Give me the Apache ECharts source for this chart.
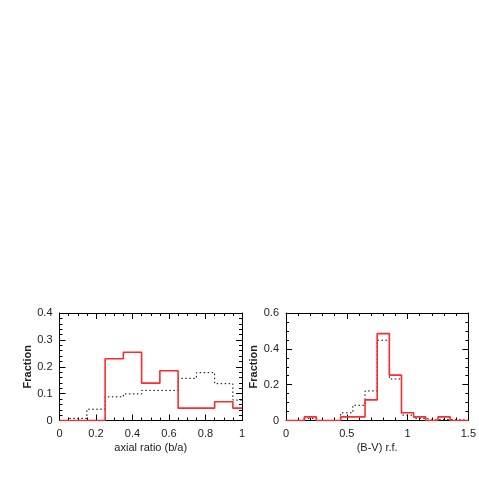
<!DOCTYPE html>
<html><head><meta charset="utf-8">
<script src="https://cdn.jsdelivr.net/npm/echarts@6/dist/echarts.min.js"></script>
<style>html,body{margin:0;padding:0;background:#fff}#c{width:479px;height:479px}</style>
</head><body><div id="c"></div>
<script>
// Left panel: axial ratio histogram (bin centers)
const axialBins = [0, 0.1, 0.2, 0.3, 0.4, 0.5, 0.6, 0.7, 0.8, 0.9, 1.0];
const axialRed  = [0, 0, 0, 0.230, 0.254, 0.139, 0.185, 0.046, 0.046, 0.070, 0.046];
const axialDot  = [0, 0.008, 0.042, 0.088, 0.099, 0.112, 0.112, 0.157, 0.178, 0.137, 0.076];
// Right panel: (B-V) rest-frame colour histogram (bin centers)
const bvBins = [0, 0.1, 0.2, 0.3, 0.4, 0.5, 0.6, 0.7, 0.8, 0.9, 1.0, 1.1, 1.2, 1.3, 1.4, 1.5];
const bvRed  = [0, 0, 0.020, 0, 0, 0.020, 0.020, 0.115, 0.485, 0.253, 0.043, 0.020, 0, 0.020, 0, 0];
const bvDot  = [0, 0, 0.012, 0, 0, 0.043, 0.085, 0.165, 0.448, 0.232, 0.030, 0.012, 0.004, 0.005, 0.004, 0];
const leftXTicks = [0, 0.2, 0.4, 0.6, 0.8, 1];
const rightXTicks = [0, 0.5, 1, 1.5];

const font = 'Liberation Sans, Arial, sans-serif';
const pair = (xs, ys) => xs.map((x, i) => [x, ys[i]]);

function fmt(v){ return v === 0 ? '0' : String(+v.toFixed(2)); }

function xAxes(gi, max, interval, minorSplit, name, showLabels){
  const base = {
    type: 'value', gridIndex: gi, min: 0, max: max, interval: interval,
    axisLine: {show: true, onZero: false, lineStyle: {color: '#000', width: 1}},
    axisTick: {show: true, inside: true, length: 6, lineStyle: {color: '#000'}},
    minorTick: {show: true, splitNumber: minorSplit, length: 3, lineStyle: {color: '#000'}},
    splitLine: {show: false}
  };
  return [
    Object.assign({}, base, {position: 'bottom', name: name, nameLocation: 'middle', nameGap: 22,
      nameTextStyle: {fontFamily: font, fontSize: 11, color: '#222'},
      axisLabel: {show: true, margin: 8, fontFamily: font, fontSize: 11, color: '#222', formatter: fmt}}),
    Object.assign({}, base, {position: 'top', axisLabel: {show: false}})
  ];
}
function yAxes(gi, max, interval, minorSplit){
  const base = {
    type: 'value', gridIndex: gi, min: 0, max: max, interval: interval,
    axisLine: {show: true, onZero: false, lineStyle: {color: '#000', width: 1}},
    axisTick: {show: true, inside: true, length: 6, lineStyle: {color: '#000'}},
    minorTick: {show: true, splitNumber: minorSplit, length: 3, lineStyle: {color: '#000'}},
    splitLine: {show: false}
  };
  return [
    Object.assign({}, base, {position: 'left', name: 'Fraction', nameLocation: 'middle', nameGap: 25,
      nameRotate: 90,
      nameTextStyle: {fontFamily: font, fontSize: 11, fontWeight: 'bold', color: '#222'},
      axisLabel: {show: true, margin: 7, fontFamily: font, fontSize: 11, color: '#222', formatter: fmt}}),
    Object.assign({}, base, {position: 'right', axisLabel: {show: false}})
  ];
}

const chart = echarts.init(document.getElementById('c'), null, {renderer: 'canvas'});
chart.setOption({
  animation: false,
  backgroundColor: '#fff',
  grid: [
    {left: 59.5, top: 313, width: 182.5, height: 107.5},
    {left: 286, top: 313, width: 182.5, height: 107.5}
  ],
  xAxis: [].concat(xAxes(0, 1, 0.2, 4, 'axial ratio (b/a)'), xAxes(1, 1.5, 0.5, 5, '(B-V) r.f.')),
  yAxis: [].concat(yAxes(0, 0.4, 0.1, 5), yAxes(1, 0.6, 0.2, 4)),
  series: [
    {type: 'line', xAxisIndex: 0, yAxisIndex: 0, step: 'middle', showSymbol: false, symbol: 'none',
      data: pair(axialBins, axialDot), lineStyle: {color: '#000', width: 1, type: [1.5, 2.5]}, z: 2},
    {type: 'line', xAxisIndex: 0, yAxisIndex: 0, step: 'middle', showSymbol: false, symbol: 'none',
      data: pair(axialBins, axialRed), lineStyle: {color: '#ff2a2a', width: 1.6}, z: 3},
    {type: 'line', xAxisIndex: 2, yAxisIndex: 2, step: 'middle', showSymbol: false, symbol: 'none',
      data: pair(bvBins, bvDot), lineStyle: {color: '#000', width: 1, type: [1.5, 2.5]}, z: 2},
    {type: 'line', xAxisIndex: 2, yAxisIndex: 2, step: 'middle', showSymbol: false, symbol: 'none',
      data: pair(bvBins, bvRed), lineStyle: {color: '#ff2a2a', width: 1.6}, z: 3}
  ]
});
</script></body></html>
